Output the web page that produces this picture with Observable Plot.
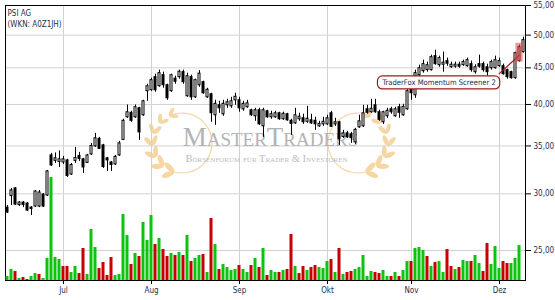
<!DOCTYPE html>
<html><head><meta charset="utf-8">
<script src="https://cdn.jsdelivr.net/npm/d3@7"></script>
<script src="https://cdn.jsdelivr.net/npm/@observablehq/plot@0.6"></script>
<style>
body{margin:0;background:#fff;}
#chart{position:relative;width:555px;height:300px;overflow:hidden;background:#fff;}
#chart > svg{position:absolute;left:0;top:0;}
</style></head><body><div id="chart"></div>
<script>
// ---- trading days (PSI AG, 2021) ----
const junDays = [11,14,15,16,17,18,21,22,23,24,25,28,29,30];
const julDays = [1,2,5,6,7,8,9,12,13,14,15,16,19,20,21,22,23,26,27,28,29,30];
const augDays = [2,3,4,5,6,9,10,11,12,13,16,17,18,19,20,23,24,25,26,27,30,31];
const sepDays = [1,2,3,6,7,8,9,10,13,14,15,16,17,20,21,22,23,24,27,28,29,30];
const oktDays = [1,4,5,6,7,8,11,12,13,14,15,18,19,20,21,22,25,26,27,28,29];
const novDays = [1,2,3,4,5,8,9,10,11,12,15,16,17,18,19,22,23,24,25,26,29,30];
const dezDays = [1,2,3,6,7,8,9];
const monthNames = ["Jan","Feb","Mär","Apr","Mai","Jun","Jul","Aug","Sep","Okt","Nov","Dez"];

// ---- prices (EUR) ----
const opens = [28.70,29.79,30.53,28.94,29.17,29.08,28.70,28.80,28.80,29.94,
29.84,33.95,33.36,33.25,33.19,33.41,31.93,33.36,33.90,33.52,
33.14,34.06,34.95,35.81,35.06,33.63,33.19,32.98,33.95,35.69,
38.38,38.94,38.38,39.51,38.63,41.74,41.87,43.67,42.41,43.95,
42.55,41.74,43.46,43.67,44.38,41.07,43.67,40.93,42.55,42.97,
40.93,41.33,38.63,39.89,38.76,39.89,39.76,40.54,40.54,39.38,
39.64,39.26,38.51,39.26,37.28,39.13,38.38,38.38,38.88,38.14,
38.76,37.95,37.64,38.14,38.26,37.83,38.01,37.95,37.28,37.52,
37.52,38.88,37.52,37.77,36.03,36.45,36.33,35.41,37.16,37.28,
39.38,39.01,39.89,39.01,37.77,38.51,39.38,38.51,39.64,38.63,
39.38,42.14,41.20,43.95,44.52,44.67,44.67,46.73,45.39,45.46,
45.99,45.09,45.17,45.46,45.39,45.24,45.54,44.38,45.54,45.54,
45.09,44.95,44.95,45.24,45.24,44.67,44.38,43.53,45.99,47.34];
const highs = [28.89,30.53,30.62,29.27,29.27,29.17,28.80,30.33,30.33,30.03,
32.35,34.17,34.22,34.45,33.84,33.52,33.08,34.84,34.28,33.63,
34.06,35.29,36.45,35.98,35.18,33.73,33.30,33.95,35.52,38.14,
39.93,39.13,39.93,39.64,40.54,42.69,43.53,44.09,44.67,44.38,
42.69,44.09,43.81,44.67,44.67,44.24,43.95,43.39,44.60,43.11,
42.14,41.47,40.54,40.41,40.54,40.67,40.93,41.47,40.93,40.41,
40.54,39.38,39.51,39.51,39.51,39.26,39.13,39.13,39.01,39.01,
38.88,38.14,39.51,38.88,38.76,39.76,38.76,38.38,37.89,38.38,
38.63,39.13,38.26,37.89,36.80,36.68,36.56,37.04,38.63,39.89,
39.89,40.67,40.67,39.26,39.13,39.51,39.64,39.64,40.02,40.02,
42.14,43.25,44.67,45.39,46.13,45.84,46.88,47.64,46.73,47.34,
46.43,45.84,45.84,45.84,46.13,46.43,45.99,45.46,46.88,45.84,
45.54,46.13,46.73,46.43,45.54,44.81,44.52,47.34,48.41,49.68];
const lows = [28.16,28.89,28.89,28.80,28.70,28.34,27.98,28.70,28.70,28.70,
29.74,32.77,33.08,32.66,32.98,31.63,31.83,33.08,33.30,32.04,
33.08,33.95,34.84,34.61,32.56,32.25,32.25,32.87,33.84,35.64,
38.26,37.77,38.26,35.64,38.51,40.41,41.74,41.60,42.28,42.14,
40.54,41.60,42.69,43.39,42.69,40.93,40.54,40.80,42.28,41.33,
40.80,37.77,37.40,38.88,38.51,39.51,39.51,39.89,39.01,39.13,
39.51,38.51,37.89,37.40,35.98,38.26,38.14,38.26,38.01,38.01,
37.89,36.21,37.52,37.89,37.52,37.64,37.52,36.80,37.16,37.28,
37.40,37.16,37.28,35.06,35.87,35.87,35.29,35.18,37.04,37.16,
38.76,38.88,38.88,37.89,37.52,38.26,38.76,38.38,38.26,38.51,
39.26,40.54,40.80,43.67,44.24,44.38,44.52,45.39,45.09,44.38,
45.24,44.95,44.95,44.95,45.24,45.09,44.38,44.09,44.95,44.38,
43.81,44.67,44.81,45.09,43.95,43.39,43.39,43.39,45.84,47.18];
const closes = [28.25,30.33,28.98,29.17,28.94,28.43,28.57,30.23,30.13,28.80,
32.25,32.87,33.63,33.52,33.52,31.78,32.92,33.68,33.57,32.66,
33.95,35.00,35.87,34.67,32.71,33.41,32.92,33.79,35.29,37.95,
39.01,37.95,39.64,36.56,40.41,42.41,43.25,41.87,44.24,42.55,
40.80,43.95,43.04,44.45,42.97,43.81,40.93,43.25,44.17,41.47,
41.94,38.88,40.08,39.51,40.08,40.28,40.41,41.00,39.51,40.08,
40.15,38.63,39.26,37.52,39.26,38.38,38.76,38.88,38.14,38.82,
38.01,37.58,38.63,38.45,37.77,38.20,37.64,37.52,37.58,37.83,
38.26,37.22,37.77,35.75,36.45,35.98,35.92,36.86,37.89,38.88,
38.94,39.45,39.01,38.07,39.01,39.19,39.01,39.38,38.94,39.70,
41.74,41.47,44.24,44.95,45.54,45.39,46.58,45.54,46.43,45.76,
45.61,45.46,45.46,45.17,45.84,46.13,44.67,45.09,45.17,44.67,
44.38,45.84,46.13,45.99,44.09,43.67,43.53,47.18,48.10,49.20];

// ---- volume (thousand shares) and day direction (1 = up, 0 = down) ----
const volumes = [4,11,9,2,3,1,4,7,6,2,
22,103,23,21,14,14,8,14,7,32,
6,51,33,12,18,5,23,5,6,66,
45,16,27,24,58,40,65,36,42,31,
24,27,25,28,25,45,19,22,25,26,
8,62,36,11,16,13,10,11,15,11,
8,15,22,13,32,5,10,8,8,10,
11,46,14,7,14,10,13,15,13,12,
19,21,8,32,6,8,9,11,13,25,
4,9,8,7,10,4,4,8,4,10,
19,19,32,33,30,24,14,18,19,8,
31,14,11,13,20,19,19,25,17,9,
37,16,34,12,19,17,17,22,35,null];
const volUp = [1,1,0,1,0,0,1,1,0,1,
1,1,1,1,0,0,1,1,0,0,
1,1,1,0,0,0,0,1,1,1,
1,0,1,0,1,1,1,0,1,0,
0,1,0,1,0,1,0,1,1,0,
1,0,1,0,1,1,1,1,0,1,
1,0,1,0,1,0,1,1,0,1,
0,0,1,0,0,1,0,0,1,1,
1,0,1,0,1,0,0,1,1,1,
1,1,0,0,1,1,0,1,0,1,
1,0,1,1,1,0,1,0,1,1,
0,0,1,0,1,1,0,1,1,0,
0,1,1,1,0,0,1,1,1,0];

const priceTicks = [25,30,35,40,45,50,55];
const titleText = "PSI AG\n(WKN: A0Z1JH)";
const watermark = "MasterTraders";
const watermarkSub = "Börsenforum für Trader & Investoren";
const note = {label: "TraderFox Momentum Screener 2", at: 107.9, price: 42.93,
              fromAt: 122.8, fromPrice: 44.1, target: 128, targetPrice: 46.88};

// ---- build table ----
const tradingMonths = [[5,junDays],[6,julDays],[7,augDays],[8,sepDays],[9,oktDays],[10,novDays],[11,dezDays]];
const dates = tradingMonths.flatMap(([m, days]) => days.map(d => new Date(Date.UTC(2021, m, d))));
const rows = dates.map((date, i) => ({i, date, open: opens[i], high: highs[i], low: lows[i], close: closes[i], volume: volumes[i], up: volUp[i]}));
const monthTicks = rows.filter((d, i) => i > 0 && d.date.getUTCMonth() !== rows[i-1].date.getUTCMonth()).map(d => d.i);
const fmtPrice = d => d.toFixed(2).replace(".", ",");
const xDomain = [-0.5, rows.length - 0.5];
const common = {width: 555, height: 300, marginLeft: 5, marginRight: 30, marginTop: 5, marginBottom: 20};
const smallFont = "'DejaVu Sans Condensed', 'DejaVu Sans', Verdana, sans-serif";
const ink = "#23304f";
const hi = rows[note.target];

const chart = document.getElementById("chart");

// ---- decorative laurel wreath of the watermark (behind everything) ----
const wreath = d3.create("svg").attr("width", 555).attr("height", 300);
const leafColor = "#f7d6a6";
for (const side of [-1, 1]) {
  const g = wreath.append("g").attr("transform", side < 0 ? null : "translate(540,0) scale(-1,1)");
  const cx = 182, cy = 143, r = 30;
  const n = 7;
  for (let k = 0; k < n; k++) {
    const a = (245 - k * 140 / (n - 1)) * Math.PI / 180;
    const px = cx + r * Math.cos(a), py = cy + r * Math.sin(a);
    const dx = -Math.sin(a), dy = Math.cos(a);
    const nx = Math.cos(a), ny = Math.sin(a);
    const size = 4.5 + k * 0.35;
    for (const s of [0.75, -0.55]) {
      let vx = dx + s * nx, vy = dy + s * ny;
      const len = Math.hypot(vx, vy); vx /= len; vy /= len;
      const ang = Math.atan2(vy, vx) * 180 / Math.PI;
      g.append("ellipse")
        .attr("transform", `translate(${px + vx * size},${py + vy * size}) rotate(${ang})`)
        .attr("rx", size).attr("ry", size * 0.42)
        .attr("fill", leafColor);
    }
  }
  g.append("path")
    .attr("d", d3.arc()({innerRadius: r - 0.6, outerRadius: r + 0.6, startAngle: (245 + 90) * Math.PI / 180 - 2 * Math.PI, endAngle: (105 + 90) * Math.PI / 180}))
    .attr("transform", `translate(${cx},${cy})`)
    .attr("fill", leafColor);
}
chart.append(wreath.node());

// ---- price chart ----
const price = Plot.plot({
  ...common,
  style: {background: "transparent", color: "black", fontFamily: smallFont, fontSize: "8px", overflow: "visible"},
  x: {domain: xDomain},
  y: {type: "log", domain: [22.7, 55]},
  marks: [
    Plot.gridY(priceTicks, {stroke: "#d2d2d2", strokeOpacity: 1}),
    Plot.gridX(monthTicks, {stroke: "#d2d2d2", strokeOpacity: 1}),
    Plot.text([watermark], {text: d => d, frameAnchor: "middle", dx: 5, dy: -6, fontSize: 27,
      fontFamily: "'Liberation Serif', 'Times New Roman', serif", fontVariant: "small-caps", fill: "#b3b3b3"}),
    Plot.text([watermarkSub], {text: d => d, frameAnchor: "middle", dx: 1, dy: 16, fontSize: 10.5,
      fontFamily: "'Liberation Serif', 'Times New Roman', serif", fontVariant: "small-caps", fill: "#bcbcbc"}),
    Plot.text([titleText], {text: d => d, frameAnchor: "top-left", dx: 2, dy: 3, lineAnchor: "top", textAnchor: "start",
      fill: ink, fontSize: 8, lineHeight: 1.38}),
    Plot.ruleX(rows, {x: "i", y1: "low", y2: "high", stroke: "black"}),
    Plot.rect(rows, {x1: d => d.i - 0.25, x2: d => d.i + 0.25, y1: "open", y2: "close",
      fill: d => d.close >= d.open ? "white" : "black", stroke: "black"}),
    Plot.link([note], {x1: "fromAt", y1: "fromPrice", x2: () => hi.i, y2: "targetPrice", stroke: "#a3191b", strokeWidth: 1.2}),
    Plot.rect([hi], {x1: d => d.i - 0.9, x2: d => d.i + 0.9, y1: d => d.low, y2: d => d.high * 1.006,
      fill: "#e84444", fillOpacity: 0.55}),
    Plot.text([note], {x: "at", y: "price", text: "label", fill: ink, fontSize: 7.6}),
    Plot.frame({stroke: "black"}),
    Plot.axisY(priceTicks, {anchor: "right", tickSize: 5, tickPadding: 3, tickFormat: fmtPrice, label: null,
      stroke: "black", fill: ink, fontSize: 8}),
    Plot.axisX(monthTicks, {anchor: "bottom", tickSize: 4, tickPadding: 3, label: null,
      tickFormat: i => monthNames[dates[i].getUTCMonth()], stroke: "black", fill: ink, fontSize: 8})
  ]
});
chart.append(price);

// annotation box sized to its label
for (const t of price.querySelectorAll("text")) {
  if (t.textContent === note.label) {
    const b = t.getBBox();
    const box = document.createElementNS("http://www.w3.org/2000/svg", "rect");
    box.setAttribute("x", b.x - 4); box.setAttribute("y", b.y - 2);
    box.setAttribute("width", b.width + 8); box.setAttribute("height", b.height + 4);
    box.setAttribute("rx", 5);
    box.setAttribute("fill", "white"); box.setAttribute("stroke", "#a3191b"); box.setAttribute("stroke-width", 1.2);
    if (t.getAttribute("transform")) box.setAttribute("transform", t.getAttribute("transform"));
    t.parentNode.insertBefore(box, t);
  }
}

// ---- volume bars (own linear scale, same frame) ----
const volume = Plot.plot({
  ...common,
  style: {background: "transparent"},
  x: {domain: xDomain, axis: null},
  y: {domain: [0, 275], axis: null},
  marks: [
    Plot.rect(rows.filter(d => d.volume != null), {x1: d => d.i - 0.375, x2: d => d.i + 0.375, y1: 0, y2: "volume",
      fill: d => d.up ? "#0cc40c" : "#c80000"})
  ]
});
volume.style.pointerEvents = "none";
chart.append(volume);
</script></body></html>
